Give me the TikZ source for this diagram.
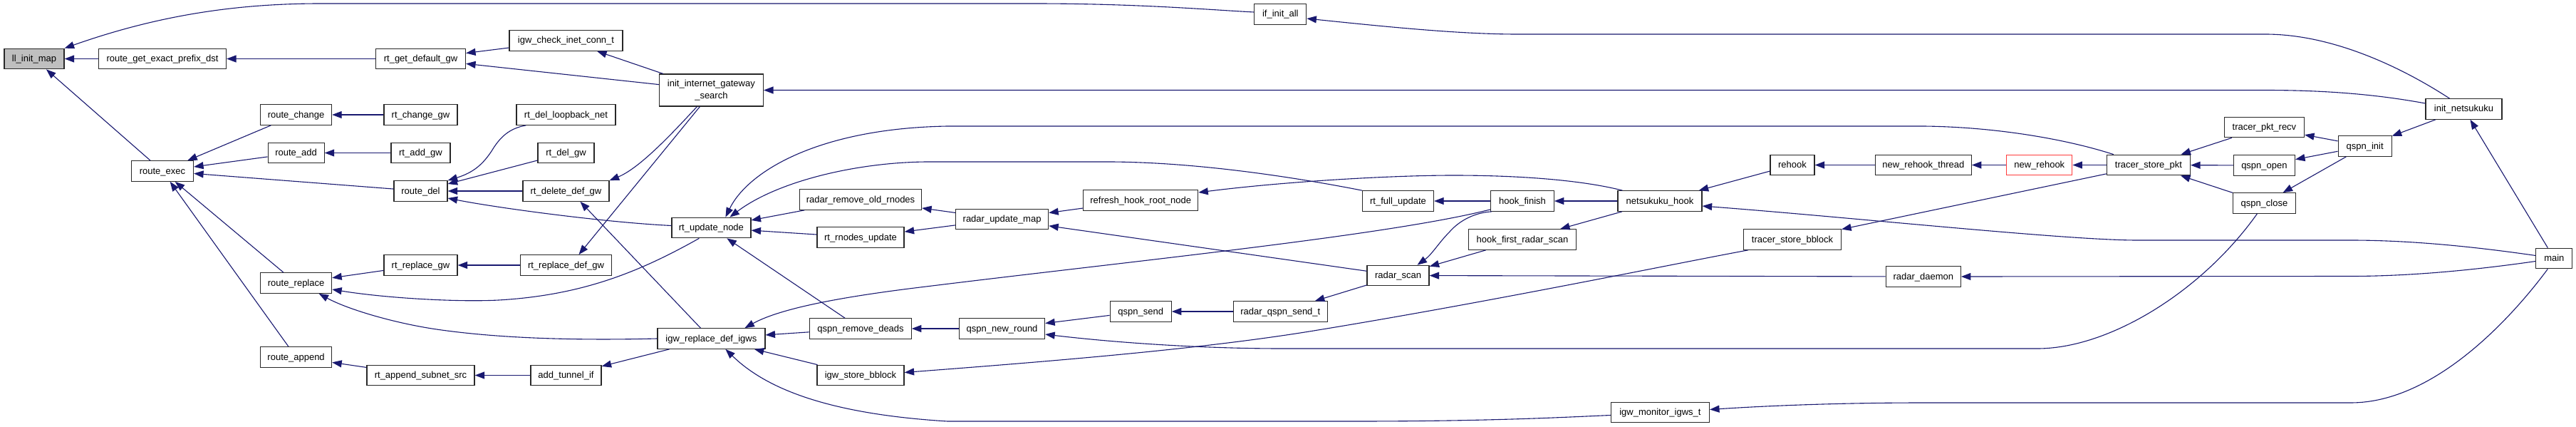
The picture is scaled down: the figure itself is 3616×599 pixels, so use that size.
\documentclass[tikz,border=0pt]{standalone}
\usepackage{fontspec}
\setmainfont{Liberation Sans}
\newfontfamily\nfont{Liberation Sans}
\usetikzlibrary{arrows.meta}
\definecolor{mblue}{RGB}{25,25,112}
\definecolor{nred}{RGB}{255,60,60}
\definecolor{ngrey}{RGB}{191,191,191}
\definecolor{nborder}{RGB}{40,40,40}
\begin{document}
\begin{tikzpicture}[x=1pt,y=-1pt,
  base/.style={draw=nborder, line width=1.2pt, fill=white, inner sep=0pt,
    font=\nfont\fontsize{13pt}{17.5pt}\selectfont, align=center},
  fn/.style={base, minimum height=28.5pt, text height=10pt, text depth=2pt},
  e/.style={draw=mblue, line width=1.1pt, {Triangle[length=13.5pt,width=10pt]}-}]
\useasboundingbox (0,0) rectangle (3616,599);
\fill[white] (0,0) rectangle (3616,599);
% nodes
\node[fn,fill=ngrey,minimum width=84pt] (llinit) at (48,82.5) {ll\_init\_map};
\node[fn,minimum width=179pt] (rgepd) at (228,82.5) {route\_get\_exact\_prefix\_dst};
\node[fn,minimum width=87pt] (rexec) at (228,240) {route\_exec};
\node[fn,minimum width=100pt] (rchange) at (415.6,161) {route\_change};
\node[fn,minimum width=79pt] (radd) at (415.6,214.5) {route\_add};
\node[fn,minimum width=100pt] (rreplace) at (415.6,397) {route\_replace};
\node[fn,minimum width=100pt] (rappend) at (415.6,501) {route\_append};
\node[fn,minimum width=126pt] (rtgdg) at (590.5,82.5) {rt\_get\_default\_gw};
\node[fn,minimum width=103pt] (rtchangegw) at (590.5,161) {rt\_change\_gw};
\node[fn,minimum width=83pt] (rtaddgw) at (590.5,214.5) {rt\_add\_gw};
\node[fn,minimum width=75pt] (rdel) at (590.5,268) {route\_del};
\node[fn,minimum width=103pt] (rtreplacegw) at (590.5,372) {rt\_replace\_gw};
\node[fn,minimum width=151pt] (rtappend) at (590.5,526.5) {rt\_append\_subnet\_src};
\node[fn,minimum width=159pt] (igwcheck) at (794.5,57) {igw\_check\_inet\_conn\_t};
\node[fn,minimum width=139pt] (rtdelloop) at (794.5,161) {rt\_del\_loopback\_net};
\node[fn,minimum width=79pt] (rtdelgw) at (794.5,214.5) {rt\_del\_gw};
\node[fn,minimum width=121pt] (rtdeldefgw) at (794.5,268) {rt\_delete\_def\_gw};
\node[fn,minimum width=128pt] (rtrepdefgw) at (794.5,372) {rt\_replace\_def\_gw};
\node[fn,minimum width=99pt] (addtunnel) at (794.5,526.5) {add\_tunnel\_if};
\node[base,minimum width=146pt,minimum height=45pt] (iigs) at (998.4,126.5) {init\_internet\_gateway\\\_search};
\node[fn,minimum width=111pt] (rtupdate) at (998.4,319.5) {rt\_update\_node};
\node[fn,minimum width=151pt] (igwrepdef) at (998.4,475) {igw\_replace\_def\_igws};
\node[fn,minimum width=171pt] (radarremove) at (1208,280) {radar\_remove\_old\_rnodes};
\node[fn,minimum width=122pt] (rtrnodes) at (1208,333) {rt\_rnodes\_update};
\node[fn,minimum width=142.5pt] (qspnremdeads) at (1208,461) {qspn\_remove\_deads};
\node[fn,minimum width=122pt] (igwstore) at (1208,526.5) {igw\_store\_bblock};
\node[fn,minimum width=130pt] (radarupdmap) at (1406.6,307.5) {radar\_update\_map};
\node[fn,minimum width=120pt] (qspnnewround) at (1406.6,461) {qspn\_new\_round};
\node[fn,minimum width=161pt] (refreshhook) at (1601.2,281) {refresh\_hook\_root\_node};
\node[fn,minimum width=86pt] (qspnsend) at (1601.2,437) {qspn\_send};
\node[fn,minimum width=73pt] (ifinitall) at (1797.3,20) {if\_init\_all};
\node[fn,minimum width=132pt] (radarqspnsendt) at (1797.3,437) {radar\_qspn\_send\_t};
\node[fn,minimum width=100pt] (rtfullupdate) at (1962.5,282) {rt\_full\_update};
\node[fn,minimum width=87pt] (radarscan) at (1962.5,386.5) {radar\_scan};
\node[fn,minimum width=88.5pt] (hookfinish) at (2137,282) {hook\_finish};
\node[fn,minimum width=151.5pt] (hookfirst) at (2137,336) {hook\_first\_radar\_scan};
\node[fn,minimum width=118pt] (netsukukuhook) at (2330,282) {netsukuku\_hook};
\node[fn,minimum width=138pt] (igwmonitor) at (2330.4,578.5) {igw\_monitor\_igws\_t};
\node[fn,minimum width=62pt] (rehook) at (2516,231.5) {rehook};
\node[fn,minimum width=137pt] (tracerstorebblock) at (2516,336) {tracer\_store\_bblock};
\node[fn,minimum width=135pt] (newrehookthread) at (2699.8,231.5) {new\_rehook\_thread};
\node[fn,minimum width=105pt] (radardaemon) at (2699.8,388) {radar\_daemon};
\node[fn,draw=nred,minimum width=92pt] (newrehook) at (2862.8,231.5) {new\_rehook};
\node[fn,minimum width=117pt] (tracerstorepkt) at (3015.9,231.5) {tracer\_store\_pkt};
\node[fn,minimum width=112pt] (tracerpktrecv) at (3178.4,178.5) {tracer\_pkt\_recv};
\node[fn,minimum width=86pt] (qspnopen) at (3178.4,232) {qspn\_open};
\node[fn,minimum width=88pt] (qspnclose) at (3178.4,285) {qspn\_close};
\node[fn,minimum width=75pt] (qspninit) at (3319.6,205) {qspn\_init};
\node[fn,minimum width=107pt] (initnetsukuku) at (3458.5,153) {init\_netsukuku};
\node[fn,minimum width=51pt] (main) at (3585.3,362.5) {main};
% edges
\draw[e] (llinit.north east) .. controls (220,22) and (330,5) .. (450,5) -- (1450,5) .. controls (1600,5) and (1700,14) .. ([yshift=3pt]ifinitall.west);
\draw[e] (llinit) -- (rgepd);
\draw[e] (llinit) -- (rexec);
\draw[e] (rgepd) -- (rtgdg);
\draw[e] (rtgdg) -- (igwcheck);
\draw[e] (rtgdg) -- (iigs);
\draw[e] (igwcheck) -- (iigs);
\draw[e] (rexec) -- (rchange);
\draw[e] (rexec) -- (radd);
\draw[e] (rexec) -- (rdel);
\draw[e] (rexec) -- (rreplace);
\draw[e] (rexec) -- (rappend);
\draw[e] (rchange) -- (rtchangegw);
\draw[e] (radd) -- (rtaddgw);
\draw[e] (rdel.north east) .. controls (665,242) and (678,230) .. (690,212) .. controls (702,192) and (715,180) .. ([xshift=14pt]rtdelloop.south west);
\draw[e] (rdel) -- (rtdelgw);
\draw[e] (rdel) -- (rtdeldefgw);
\draw[e] ([yshift=-10pt]rdel.east) .. controls (700,292) and (850,312) .. ([yshift=3pt]rtupdate.west);
\draw[e] (rtdeldefgw.north east) .. controls (900,235) and (950,180) .. ([xshift=-20pt]iigs.south);
\draw[e] ([xshift=18pt]rtrepdefgw.north) -- ([xshift=-16pt]iigs.south);
\draw[e] ([xshift=20pt]rtdeldefgw.south) -- ([xshift=-15pt]igwrepdef.north);
\draw[e] (rreplace) -- (rtreplacegw);
\draw[e] ([yshift=-9pt]rreplace.east) .. controls (540,418) and (640,424) .. (700,421) .. controls (820,414) and (900,380) .. ([xshift=-17pt]rtupdate.south);
\draw[e] ([xshift=32pt]rreplace.south) .. controls (490,435) and (560,455) .. (620,463) .. controls (700,474) and (800,478) .. (igwrepdef.west);
\draw[e] (rtreplacegw) -- (rtrepdefgw);
\draw[e] (rappend) -- (rtappend);
\draw[e] (rtappend) -- (addtunnel);
\draw[e] (addtunnel) -- (igwrepdef);
\draw[e] (rtupdate) -- (rtrnodes);
\draw[e] (rtupdate) -- (radarremove);
\draw[e] (rtupdate) -- (qspnremdeads);
\draw[e] ([xshift=20pt]rtupdate.north) .. controls (1050,240) and (1150,180) .. (1330,177) -- (2700,177) .. controls (2800,178) and (2900,195) .. ([xshift=10pt]tracerstorepkt.north west);
\draw[e] ([xshift=26pt]rtupdate.north) .. controls (1090,255) and (1200,228) .. (1300,227) -- (1560,227) .. controls (1700,228) and (1850,255) .. (rtfullupdate.north west);
\draw[e] (radarremove) -- (radarupdmap);
\draw[e] (rtrnodes) -- (radarupdmap);
\draw[e] (radarupdmap) -- (refreshhook);
\draw[e] (radarupdmap) -- (radarscan);
\draw[e] ([yshift=11pt]refreshhook.east) .. controls (1800,255) and (1950,246) .. (2040,246) .. controls (2150,246) and (2230,255) .. ([xshift=7pt]netsukukuhook.north west);
\draw[e] (igwrepdef) -- (qspnremdeads);
\draw[e] (igwrepdef) -- (igwstore);
\draw[e] ([xshift=47pt]igwrepdef.north) .. controls (1100,430) and (1200,414) .. (1300,402) .. controls (1600,365) and (1950,330) .. ([yshift=3pt]hookfinish.south west);
\draw[e] ([xshift=27pt]radarscan.north) .. controls (2010,357) and (2020,340) .. (2035,325) .. controls (2050,308) and (2072,298) .. ([xshift=2pt]hookfinish.south west);
\draw[e] (qspnremdeads) -- (qspnnewround);
\draw[e] (qspnnewround) -- (qspnsend);
\draw[e] ([yshift=-8pt]qspnnewround.east) .. controls (1560,480) and (1680,489) .. (1800,489) -- (2860,489) .. controls (2960,489) and (3090,410) .. ([xshift=-10pt]qspnclose.south);
\draw[e] (qspnsend) -- (radarqspnsendt);
\draw[e] (radarqspnsendt) -- (radarscan);
\draw[e] ([yshift=4pt]igwstore.east) .. controls (1500,505) and (1700,488) .. (1850,463) .. controls (2100,422) and (2350,370) .. ([xshift=7pt]tracerstorebblock.south west);
\draw[e] (radarscan) -- (hookfirst);
\draw[e] (radarscan) -- (radardaemon);
\draw[e] (rtfullupdate) -- (hookfinish);
\draw[e] (hookfinish) -- (netsukukuhook);
\draw[e] (hookfirst) -- (netsukukuhook);
\draw[e] (netsukukuhook) -- (rehook);
\draw[e] ([yshift=-7pt]netsukukuhook.east) .. controls (2600,305) and (2900,337) .. (3000,337) -- (3300,337) .. controls (3400,337) and (3500,350) .. ([yshift=4pt]main.west);
\draw[e] (rehook) -- (newrehookthread);
\draw[e] (newrehookthread) -- (newrehook);
\draw[e] (newrehook) -- (tracerstorepkt);
\draw[e] (tracerstorebblock) -- (tracerstorepkt);
\draw[e] (tracerstorepkt) -- (tracerpktrecv);
\draw[e] (tracerstorepkt) -- (qspnopen);
\draw[e] (tracerstorepkt) -- (qspnclose);
\draw[e] (tracerpktrecv) -- (qspninit);
\draw[e] (qspnopen) -- (qspninit);
\draw[e] (qspnclose) -- (qspninit);
\draw[e] (qspninit) -- (initnetsukuku);
\draw[e] (initnetsukuku) -- (main);
\draw[e] (iigs.east) -- (3180,126.5) .. controls (3280,126.5) and (3350,135) .. ([yshift=8pt]initnetsukuku.west);
\draw[e] ([yshift=-6pt]ifinitall.east) .. controls (1950,38) and (2050,48) .. (2130,48) -- (3180,48) .. controls (3280,48) and (3380,100) .. ([xshift=-20pt]initnetsukuku.north);
\draw[e] (radardaemon.east) -- (3300,387.5) .. controls (3400,387.5) and (3500,375) .. ([yshift=-4pt]main.west);
\draw[e] ([yshift=4pt]igwmonitor.east) .. controls (2500,568) and (2600,565) .. (2700,565) -- (3300,565) .. controls (3420,565) and (3530,440) .. ([xshift=-9pt]main.south);
\draw[e] ([xshift=20pt]igwrepdef.south) .. controls (1070,540) and (1150,580) .. (1330,591) -- (1900,591) .. controls (2100,591) and (2200,585) .. ([yshift=-4pt]igwmonitor.west);
\end{tikzpicture}
\end{document}
